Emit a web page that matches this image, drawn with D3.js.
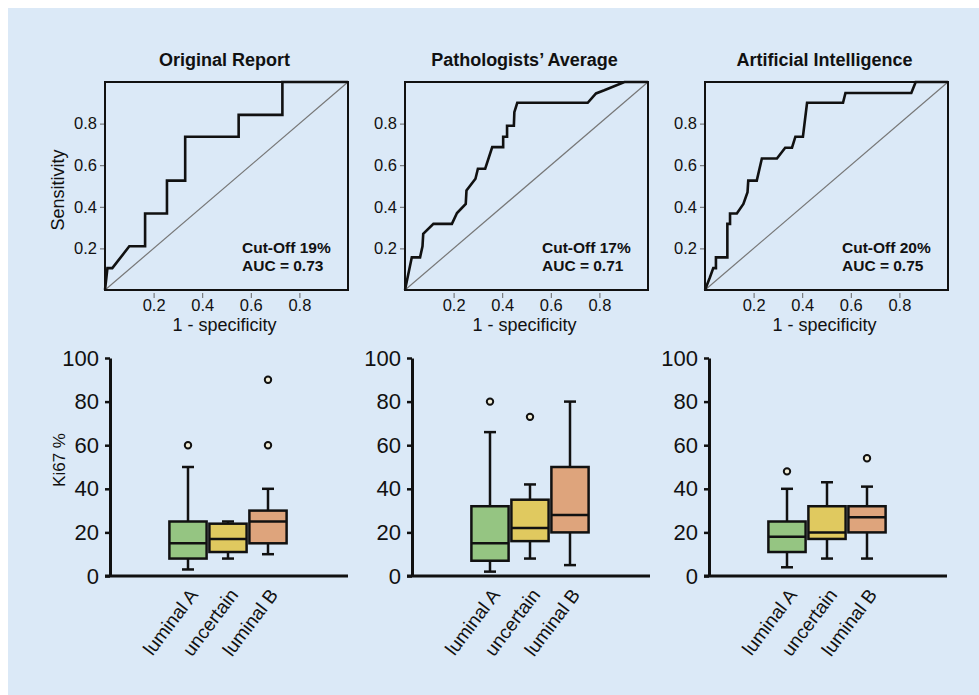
<!DOCTYPE html>
<html lang="en">
<head>
    <meta charset="UTF-8">
    <title>ROC and Ki67 box plots</title>
    <script src="https://d3js.org/d3.v7.min.js"></script>
    <style>
        body { margin: 0; background: #fff; }
        text { font-family: "Liberation Sans", Arial, sans-serif; fill: #111; }
    </style>
</head>
<body>
    <svg id="chart" width="979" height="695"></svg>
    <script>
        // ROC curves: [1 - specificity, sensitivity]
        const rocOriginal = [[0,0],[0.01,0.105],[0.03,0.105],[0.10,0.21],[0.165,0.21],[0.165,0.368],[0.255,0.368],
            [0.255,0.526],[0.33,0.526],[0.33,0.737],[0.55,0.737],[0.55,0.842],[0.73,0.842],[0.73,1],[1,1]];
        const rocPathologists = [[0,0],[0.028,0.157],[0.062,0.157],[0.072,0.21],[0.075,0.27],[0.117,0.318],[0.193,0.318],
            [0.214,0.37],[0.25,0.414],[0.253,0.478],[0.29,0.535],[0.3,0.583],[0.33,0.583],[0.359,0.687],[0.404,0.687],
            [0.404,0.737],[0.42,0.737],[0.42,0.79],[0.448,0.79],[0.45,0.855],[0.462,0.9],[0.752,0.9],[0.786,0.945],
            [0.82,0.96],[0.903,1],[1,1]];
        const rocAI = [[0,0],[0.02,0.06],[0.034,0.105],[0.045,0.105],[0.045,0.157],[0.092,0.157],[0.092,0.318],
            [0.103,0.318],[0.103,0.368],[0.131,0.368],[0.158,0.414],[0.175,0.47],[0.178,0.526],[0.213,0.526],
            [0.234,0.632],[0.296,0.632],[0.33,0.684],[0.358,0.684],[0.372,0.737],[0.403,0.737],[0.42,0.9],
            [0.568,0.9],[0.578,0.947],[0.849,0.947],[0.867,1],[1,1]];

        const rocTitles = ["Original Report", "Pathologists\u2019 Average", "Artificial Intelligence"];
        const cutOffs = ["Cut-Off 19%", "Cut-Off 17%", "Cut-Off 20%"];
        const aucs = ["AUC = 0.73", "AUC = 0.71", "AUC = 0.75"];
        const rocTicks = [0.2, 0.4, 0.6, 0.8];

        // Ki67 box plots: [low whisker, Q1, median, Q3, high whisker]
        const groups = ["luminal A", "uncertain", "luminal B"];
        const ki67Ticks = [0, 20, 40, 60, 80, 100];
        const boxOriginal = [[3, 8, 15, 25, 50], [8, 11, 17, 24, 25], [10, 15, 25, 30, 40]];
        const outOriginal = [[60], [], [60, 90]];
        const boxPathologists = [[2, 7, 15, 32, 66], [8, 16, 22, 35, 42], [5, 20, 28, 50, 80]];
        const outPathologists = [[80], [73], []];
        const boxAI = [[4, 11, 18, 25, 40], [8, 17, 20, 32, 43], [8, 20, 27, 32, 41]];
        const outAI = [[48], [], [54]];
        const groupColors = ["#95c582", "#e0c95f", "#dea47c"];

        const svg = d3.select("#chart");
        svg.append("rect").attr("x", 8).attr("y", 8).attr("width", 971).attr("height", 687).attr("fill", "#dbe9f7");

        // ---- ROC panels ----
        const rocData = [rocOriginal, rocPathologists, rocAI];
        const rocLeft = [105, 405, 705], rocTop = 82, rocW = 243, rocH = 208;

        rocData.forEach((pts, i) => {
            const x = d3.scaleLinear().domain([0, 1]).range([rocLeft[i], rocLeft[i] + rocW]);
            const y = d3.scaleLinear().domain([0, 1]).range([rocTop + rocH, rocTop]);
            const g = svg.append("g");

            g.append("text").attr("x", x(0.5) - 2).attr("y", 66).attr("text-anchor", "middle")
                .attr("font-size", 18).attr("font-weight", "bold").text(rocTitles[i]);

            // diagonal reference
            g.append("line").attr("x1", x(0)).attr("y1", y(0)).attr("x2", x(1)).attr("y2", y(1))
                .attr("stroke", "#777").attr("stroke-width", 1.2);

            g.append("path").datum(pts)
                .attr("d", d3.line().x(d => x(d[0])).y(d => y(d[1])))
                .attr("fill", "none").attr("stroke", "#111").attr("stroke-width", 2.6);

            g.append("rect").attr("x", x(0)).attr("y", y(1)).attr("width", rocW).attr("height", rocH)
                .attr("fill", "none").attr("stroke", "#111").attr("stroke-width", 2);

            const ya = g.append("g").attr("transform", `translate(${x(0) - 1},0)`)
                .call(d3.axisLeft(y).tickValues(rocTicks).tickSize(4).tickPadding(3));
            const xa = g.append("g").attr("transform", `translate(0,${y(0) + 3})`)
                .call(d3.axisBottom(x).tickValues(rocTicks).tickSize(5).tickPadding(1));
            [ya, xa].forEach(a => {
                a.select(".domain").remove();
                a.selectAll("line").attr("stroke", "#666");
                a.selectAll("text").attr("font-size", 16.5).attr("font-family", "Liberation Sans, Arial, sans-serif").attr("fill", "#111");
            });

            g.append("text").attr("x", x(0.5) - 2).attr("y", 331).attr("text-anchor", "middle")
                .attr("font-size", 18).text("1 - specificity");

            g.append("text").attr("x", rocLeft[i] + 137).attr("y", 253).attr("font-size", 15.5)
                .attr("font-weight", "bold").text(cutOffs[i]);
            g.append("text").attr("x", rocLeft[i] + 137).attr("y", 271).attr("font-size", 15.5)
                .attr("font-weight", "bold").text(aucs[i]);
        });

        svg.append("text").attr("transform", `translate(64,${rocTop + rocH / 2 + 4}) rotate(-90)`)
            .attr("text-anchor", "middle").attr("font-size", 18).text("Sensitivity");

        // ---- Box plot panels ----
        const boxData = [boxOriginal, boxPathologists, boxAI];
        const outData = [outOriginal, outPathologists, outAI];
        const axisX = [110, 412, 709], axisLen = 238;
        const yBox = d3.scaleLinear().domain([0, 100]).range([576, 358]);

        boxData.forEach((stats, i) => {
            const ax = axisX[i];
            const xb = d3.scaleBand().domain(groups).range([ax + 58, ax + 178]).padding(0);
            const bw = xb.bandwidth() * 0.93;
            const g = svg.append("g");

            const ya = g.append("g").attr("transform", `translate(${ax},0)`)
                .call(d3.axisLeft(yBox).tickValues(ki67Ticks).tickSize(5).tickSizeOuter(0).tickPadding(6));
            ya.select(".domain").attr("stroke", "#111").attr("stroke-width", 3);
            ya.selectAll("line").attr("stroke", "#111").attr("stroke-width", 2.5);
            ya.selectAll("text").attr("font-size", 22).attr("font-family", "Liberation Sans, Arial, sans-serif").attr("fill", "#111");

            g.append("line").attr("x1", ax - 5).attr("x2", ax + axisLen).attr("y1", yBox(0)).attr("y2", yBox(0))
                .attr("stroke", "#111").attr("stroke-width", 3);

            groups.forEach((grp, j) => {
                const s = stats[j];
                const cx = xb(grp) + xb.bandwidth() / 2;
                // whiskers
                g.append("line").attr("x1", cx).attr("x2", cx).attr("y1", yBox(s[0])).attr("y2", yBox(s[4]))
                    .attr("stroke", "#111").attr("stroke-width", 2.5);
                [s[0], s[4]].forEach(v => g.append("line").attr("x1", cx - 6).attr("x2", cx + 6)
                    .attr("y1", yBox(v)).attr("y2", yBox(v)).attr("stroke", "#111").attr("stroke-width", 2.5));
                g.append("rect").attr("x", cx - bw / 2).attr("y", yBox(s[3]))
                    .attr("width", bw).attr("height", yBox(s[1]) - yBox(s[3]))
                    .attr("fill", groupColors[j]).attr("stroke", "#111").attr("stroke-width", 2.5);
                g.append("line").attr("x1", cx - bw / 2).attr("x2", cx + bw / 2)
                    .attr("y1", yBox(s[2])).attr("y2", yBox(s[2])).attr("stroke", "#111").attr("stroke-width", 2.5);
                outData[i][j].forEach(v => g.append("circle").attr("cx", cx).attr("cy", yBox(v)).attr("r", 3.2)
                    .attr("fill", "#f4efd8").attr("stroke", "#111").attr("stroke-width", 2));

                g.append("text").attr("transform", `translate(${cx + 11},${yBox(0) + 19}) rotate(-53)`)
                    .attr("text-anchor", "end").attr("font-size", 19).text(grp);
            });
        });

        svg.append("text").attr("transform", `translate(65,460) rotate(-90)`)
            .attr("text-anchor", "middle").attr("font-size", 17).text("Ki67 %");
    </script>
</body>
</html>
